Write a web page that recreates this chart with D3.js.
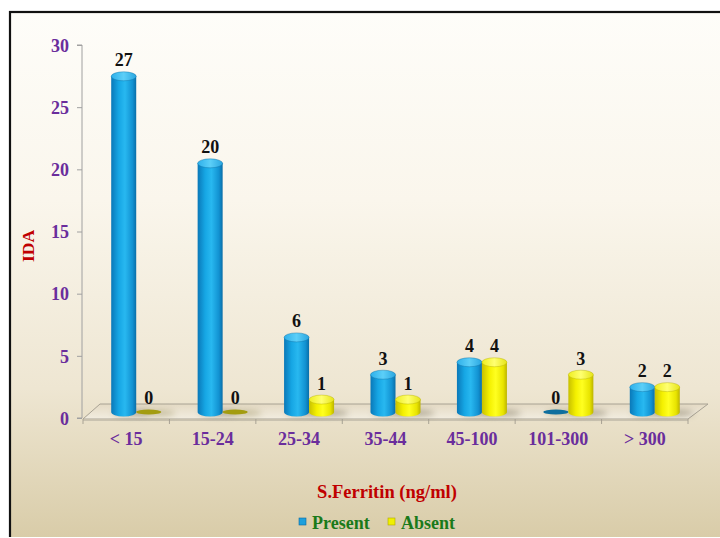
<!DOCTYPE html>
<html><head><meta charset="utf-8">
<script src="https://cdn.jsdelivr.net/npm/d3@7"></script>
<style>body{margin:0;background:#fff}svg{display:block}</style>
</head><body>
<svg id="chart" width="720" height="538"></svg>
<script>
const categories = ["< 15","15-24","25-34","35-44","45-100","101-300","> 300"];
const presentValues = [27,20,6,3,4,0,2];
const absentValues = [0,0,1,1,4,3,2];
const seriesNames = ["Present","Absent"];
const yTicks = [0,5,10,15,20,25,30];

const W = 720, H = 538;
const svg = d3.select("#chart");
const defs = svg.append("defs");

// background gradient
const bg = defs.append("linearGradient").attr("id","bg").attr("x1",0).attr("y1",0).attr("x2",0).attr("y2",1);
[[0,"#fefdf9"],[0.35,"#faf6ec"],[0.7,"#eee6d2"],[1,"#d7caa5"]].forEach(s=>bg.append("stop").attr("offset",s[0]).attr("stop-color",s[1]));

function cylGrad(id, stops){
  const g = defs.append("linearGradient").attr("id",id).attr("x1",0).attr("y1",0).attr("x2",1).attr("y2",0);
  stops.forEach(s=>g.append("stop").attr("offset",s[0]).attr("stop-color",s[1]));
}
cylGrad("gBlue",[[0,"#0a78b8"],[0.3,"#16a6e4"],[0.55,"#28b8f0"],[0.85,"#1292d2"],[1,"#0a6ea8"]]);
cylGrad("gYellow",[[0,"#c8c000"],[0.3,"#f4f000"],[0.55,"#ffff20"],[0.85,"#e8e400"],[1,"#bcb400"]]);
cylGrad("gBlueTop",[[0,"#2eb0ea"],[0.5,"#5ccff8"],[1,"#2aa6e0"]]);
cylGrad("gYellowTop",[[0,"#eeee20"],[0.5,"#ffff70"],[1,"#e6e418"]]);

const floorG = defs.append("linearGradient").attr("id","floor").attr("x1",0).attr("y1",0).attr("x2",0).attr("y2",1);
[[0,"#e4dac4"],[1,"#f2ede0"]].forEach(s=>floorG.append("stop").attr("offset",s[0]).attr("stop-color",s[1]));

const blur = defs.append("filter").attr("id","blur").attr("x","-50%").attr("y","-200%").attr("width","200%").attr("height","500%");
blur.append("feGaussianBlur").attr("stdDeviation",3);

// frame + background
svg.append("rect").attr("x",10).attr("y",12).attr("width",W+10).attr("height",H)
  .attr("fill","url(#bg)").attr("stroke","#111").attr("stroke-width",2.2);
svg.append("rect").attr("x",0).attr("y",H-1).attr("width",W).attr("height",1).attr("fill","#fff");

// scales
const x = d3.scaleBand().domain(categories).range([83,688]).paddingInner(0).paddingOuter(0);
const y = d3.scaleLinear().domain([0,30]).range([418,45]);
const depthX = 10, depthY = 6; // perspective shift of bars onto the floor middle
const backX = 18, backY = 15;
const barW = 25;

// floor
const fx0 = x.range()[0], fx1 = x.range()[1], fy = y(0)+1;
svg.append("path")
  .attr("d",`M${fx0},${fy} L${fx1},${fy} L${fx1+backX+2},${fy-backY} L${fx0+backX-1},${fy-backY} Z`)
  .attr("fill","url(#floor)").attr("stroke","#a8a294").attr("stroke-width",1);
svg.append("line").attr("x1",fx0).attr("x2",fx1).attr("y1",fy+1.5).attr("y2",fy+1.5).attr("stroke","#c9c2b0").attr("stroke-width",1);
svg.append("line").attr("x1",fx1).attr("x2",fx1).attr("y1",fy).attr("y2",fy+5).attr("stroke","#a8a294");

// x ticks on front edge
categories.forEach((c,i)=>{
  const xx = x(c);
  svg.append("line").attr("x1",xx).attr("x2",xx).attr("y1",fy).attr("y2",fy+5).attr("stroke","#a8a294");
});

// y axis
const yAxis = d3.axisLeft(y).tickValues(yTicks).tickSize(5).tickPadding(8).tickFormat(d3.format("d"));
const ya = svg.append("g").attr("transform","translate(82,0)").call(yAxis);
ya.select(".domain").attr("stroke","#a0a0a0").attr("d","M-5,45H0V418H-5");
ya.selectAll(".tick line").attr("stroke","#a0a0a0");
ya.selectAll(".tick text").attr("fill","#6a2d9c").attr("font-family","'Liberation Serif', serif")
  .attr("font-weight","bold").attr("font-size",18).attr("dy","0.35em");

// x labels
const xAxis = d3.axisBottom(x).tickSize(0).tickPadding(0);
const xa = svg.append("g").attr("transform",`translate(0,${fy+13})`).call(xAxis);
xa.select(".domain").remove();
xa.selectAll(".tick text").attr("fill","#6a2d9c").attr("font-family","'Liberation Serif', serif")
  .attr("font-weight","bold").attr("font-size",18).attr("dy","0.71em");

// bars
const series = [
  {name:seriesNames[0], values:presentValues, side:"url(#gBlue)", top:"url(#gBlueTop)", zero:"#0f6f9e", edge:"#0a6aa0"},
  {name:seriesNames[1], values:absentValues, side:"url(#gYellow)", top:"url(#gYellowTop)", zero:"#a39c10", edge:"#b0a800"}
];
const ry = 4.5;
const bars = svg.append("g");
categories.forEach((c,i)=>{
  const gx = x(c) + x.bandwidth()/2 + depthX;
  series.forEach((s,k)=>{
    const v = s.values[i];
    const cx = gx + (k===0 ? -barW/2 : barW/2);
    const base = y(0) - depthY;
    bars.append("ellipse").attr("cx",cx+8).attr("cy",base+1).attr("rx",barW*0.75).attr("ry",3)
      .attr("fill", v===0 ? "#9a9060" : "#6e6650").attr("opacity",0.5).attr("filter","url(#blur)");
  });
  series.forEach((s,k)=>{
    const v = s.values[i];
    const cx = gx + (k===0 ? -barW/2 : barW/2);
    const base = y(0) - depthY;
    const top = y(v) - depthY;
    if (v === 0) {
      bars.append("ellipse").attr("cx",cx).attr("cy",base).attr("rx",barW/2).attr("ry",2.5).attr("fill",s.zero);
    } else {
      bars.append("path")
        .attr("d",`M${cx-barW/2},${top} L${cx-barW/2},${base} A${barW/2},${ry} 0 0 0 ${cx+barW/2},${base} L${cx+barW/2},${top} Z`)
        .attr("fill",s.side);
      bars.append("ellipse").attr("cx",cx).attr("cy",top).attr("rx",barW/2).attr("ry",ry)
        .attr("fill",s.top).attr("stroke",s.edge).attr("stroke-width",0.4);
    }
    bars.append("text").attr("x",cx).attr("y",top - (v===0 ? 8 : 10))
      .attr("text-anchor","middle").attr("font-family","'Liberation Serif', serif")
      .attr("font-weight","bold").attr("font-size",18).attr("fill","#111").text(v);
  });
});

// axis titles
svg.append("text").attr("transform","translate(34,246) rotate(-90)").attr("text-anchor","middle")
  .attr("font-family","'Liberation Serif', serif").attr("font-weight","bold").attr("font-size",17.5)
  .attr("fill","#c00000").text("IDA");
svg.append("text").attr("x",387).attr("y",498).attr("text-anchor","middle")
  .attr("font-family","'Liberation Serif', serif").attr("font-weight","bold").attr("font-size",18.5)
  .attr("fill","#c00000").text("S.Ferritin (ng/ml)");

// legend
const leg = svg.append("g");
const legItems = [{name:seriesNames[0], fill:"#1ea0dc", stroke:"#0a6aa0", x:299},{name:seriesNames[1], fill:"#f0f000", stroke:"#b0a800", x:388}];
legItems.forEach(it=>{
  leg.append("rect").attr("x",it.x).attr("y",518).attr("width",7).attr("height",7).attr("fill",it.fill).attr("stroke",it.stroke).attr("stroke-width",0.6);
  leg.append("text").attr("x",it.x+13).attr("y",529).attr("font-family","'Liberation Serif', serif")
    .attr("font-weight","bold").attr("font-size",18).attr("fill","#1a7a1a").text(it.name);
});
</script>
</body></html>
